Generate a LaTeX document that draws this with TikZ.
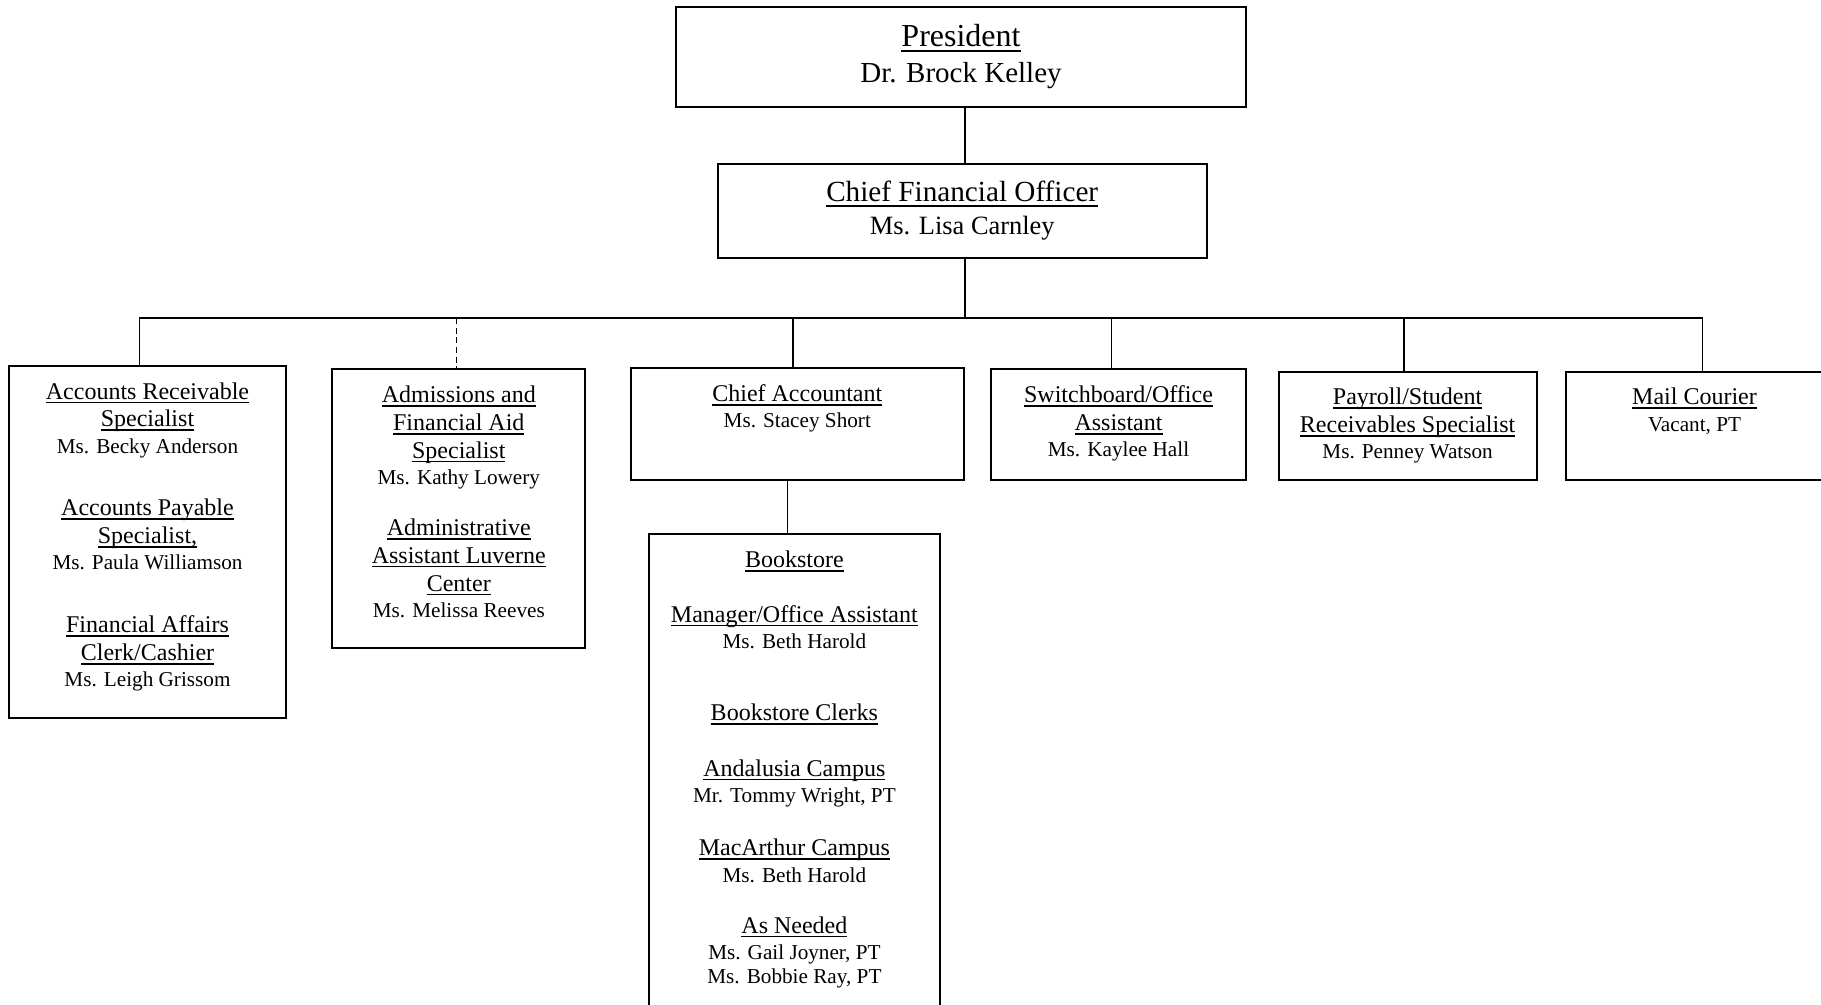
\documentclass[tikz,border=0pt]{standalone}
\usepackage{fontspec}
\setmainfont{Liberation Serif}
\usetikzlibrary{positioning}

\newcommand{\rolename}[1]{\setbox0=\hbox{#1}\leavevmode\rlap{\rule[-0.17em]{\wd0}{0.065em}}\box0}
\newcommand{\person}[1]{{\fontsize{10.6}{12.2}\selectfont #1}}

\tikzset{
    unit/.style={draw, line width=1pt, inner sep=0pt},
    unittext/.style={inner sep=0pt, align=center, font=\fontsize{12}{13.9}\selectfont},
    link/.style={line width=0.8pt},
    dashlink/.style={link, dash pattern=on 3pt off 1.8pt}
}

\begin{document}
\begin{tikzpicture}[x=0.5pt, y=-0.5pt]
	\useasboundingbox (0,0) rectangle (1821,1005);
	\clip (0,0) rectangle (1821,1005);

	% president and cfo
	\node[unit, minimum width=285pt, minimum height=50pt] (pres) at (961,57) {};
	\node[unittext, font=\fontsize{16}{18}\selectfont, below=9.2pt of pres.north] (pres-txt)
		{\rolename{President}\\ {\fontsize{14.5}{18}\selectfont Dr. Brock Kelley}};
	\node[unit, minimum width=244.5pt, minimum height=47pt] (cfo) at (962.2,210.8) {};
	\node[unittext, font=\fontsize{14.6}{16.3}\selectfont, below=8.9pt of cfo.north] (cfo-txt)
		{\rolename{Chief Financial Officer}\\ {\fontsize{13.2}{16.3}\selectfont Ms. Lisa Carnley}};

	% units under the cfo
	\node[unit, minimum width=138.2pt, minimum height=176pt] (ar) at (147.5,541.8) {};
	\node[unittext, below=8.6pt of ar.north] (ar-txt)
		{\rolename{Accounts Receivable}\\ \rolename{Specialist}\\[-0.8pt] \person{Ms. Becky Anderson}\\[17.5pt]
		 \rolename{Accounts Payable}\\ \rolename{Specialist,}\\[-0.8pt] \person{Ms. Paula Williamson}\\[17.5pt]
		 \rolename{Financial Affairs}\\ \rolename{Clerk/Cashier}\\[-0.8pt] \person{Ms. Leigh Grissom}};

	\node[unit, minimum width=126.5pt, minimum height=139.3pt] (adm) at (458.8,508.7) {};
	\node[unittext, below=8.6pt of adm.north] (adm-txt)
		{\rolename{Admissions and}\\ \rolename{Financial Aid}\\ \rolename{Specialist}\\[-0.8pt] \person{Ms. Kathy Lowery}\\[11.6pt]
		 \rolename{Administrative}\\ \rolename{Assistant Luverne}\\ \rolename{Center}\\[-0.8pt] \person{Ms. Melissa Reeves}};

	\node[unit, minimum width=166.7pt, minimum height=55.7pt] (ca) at (797.3,423.9) {};
	\node[unittext, below=8.6pt of ca.north] (ca-txt)
		{\rolename{Chief Accountant}\\[-0.8pt] \person{Ms. Stacey Short}};

	\node[unit, minimum width=127.7pt, minimum height=55.2pt] (sw) at (1118.5,424.5) {};
	\node[unittext, below=8.6pt of sw.north] (sw-txt)
		{\rolename{Switchboard/Office}\\ \rolename{Assistant}\\[-0.8pt] \person{Ms. Kaylee Hall}};

	\node[unit, minimum width=128.9pt, minimum height=54pt] (pr) at (1407.6,425.6) {};
	\node[unittext, below=8.6pt of pr.north] (pr-txt)
		{\rolename{Payroll/Student}\\ \rolename{Receivables Specialist}\\[-0.8pt] \person{Ms. Penney Watson}};

	\node[unit, minimum width=129pt, minimum height=54pt] (mc) at (1694.5,425.6) {};
	\node[unittext, below=8.6pt of mc.north] (mc-txt)
		{\rolename{Mail Courier}\\[-0.8pt] \person{Vacant, PT}};

	% bookstore
	\node[unit, minimum width=145.2pt, minimum height=248pt] (bk) at (794.4,782) {};
	\node[unittext, below=8.8pt of bk.north] (bk-txt)
		{\rolename{Bookstore}\\[13.4pt]
		 \rolename{Manager/Office Assistant}\\[-0.8pt] \person{Ms. Beth Harold}\\[22.1pt]
		 \rolename{Bookstore Clerks}\\[14pt]
		 \rolename{Andalusia Campus}\\[-0.8pt] \person{Mr. Tommy Wright, PT}\\[12.8pt]
		 \rolename{MacArthur Campus}\\[-0.8pt] \person{Ms. Beth Harold}\\[11.6pt]
		 \rolename{As Needed}\\[-0.8pt] \person{Ms. Gail Joyner, PT}\\[-1.7pt] \person{Ms. Bobbie Ray, PT}};

	% connectors
	\coordinate (bus) at (965,318.2);
	\foreach \unitname/\xpos in {ar/139.4, adm/456.4, ca/793.2, sw/1111.4, pr/1404.1, mc/1702.6}
		\coordinate (\unitname-tap) at (\xpos,318.2);
	\coordinate (bk-tap) at (787.4,500);

	\draw[link] (pres.south -| bus) -- (cfo.north -| bus);
	\draw[link] (cfo.south -| bus) -- (bus);
	\draw[link] (ar-tap |- ar.north) -- (ar-tap) -- (mc-tap) -- (mc-tap |- mc.north);
	\foreach \unitname in {ca, sw, pr}
		\draw[link] (\unitname-tap) -- (\unitname-tap |- \unitname.north);
	\draw[dashlink] (adm-tap) -- (adm-tap |- adm.north);
	\draw[link] (bk-tap |- ca.south) -- (bk-tap |- bk.north);
\end{tikzpicture}
\end{document}
